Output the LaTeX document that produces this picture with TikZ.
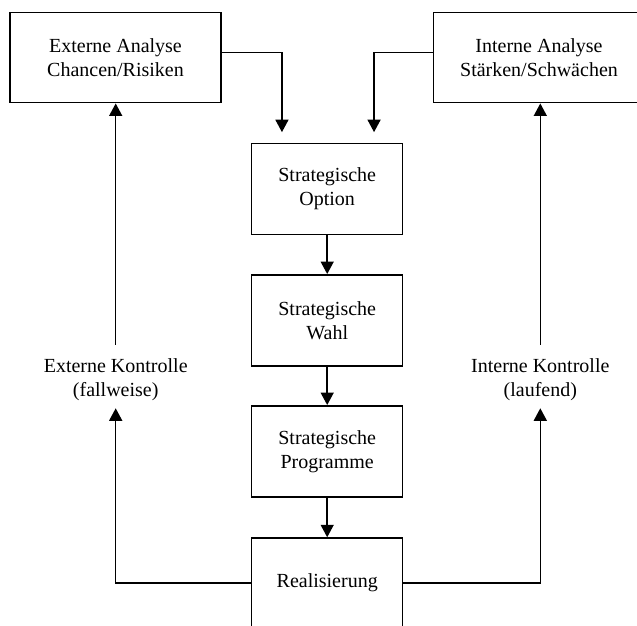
\documentclass[tikz,border=0pt]{standalone}
\usepackage{fontspec}
\setmainfont{Liberation Serif}
\usetikzlibrary{arrows.meta,calc}
\begin{document}
\begin{tikzpicture}[x=1pt,y=-1pt,
  txt/.style={align=center,font=\fontsize{20}{24}\selectfont},
  box/.style={txt,draw,line width=1.5pt,inner sep=0pt,minimum width=151pt,minimum height=91pt},
  widebox/.style={box,minimum width=211pt,minimum height=90pt},
  lbl/.style={txt,inner sep=0pt},
  arr/.style={-{Triangle[width=13pt,length=12.5pt]},line width=1.5pt}]
\useasboundingbox (0,0) rectangle (637,626);
\clip (0,0) rectangle (637,626);

% analysis boxes on top
\node[widebox] (ext) at (115.5,57.7) {Externe Analyse\\Chancen/Risiken};
\node[widebox] (int) at (539,57.7) {Interne Analyse\\Stärken/Schwächen};

% central chain
\node[box] (opt)  at (327.2,189)   {Strategische\\Option};
\node[box] (wahl) at (327.2,320.3) {Strategische\\Wahl};
\node[box] (prog) at (327.2,451.3) {Strategische\\Programme};
\node[box,minimum height=90pt] (real) at (327.2,583) {Realisierung};

% control labels
\node[lbl] (kext) at (115.7,379.5) {Externe Kontrolle\\(fallweise)};
\node[lbl] (kint) at (540.3,379.5) {Interne Kontrolle\\(laufend)};

% end points of the two inputs above the option box
\coordinate (inE) at ($(opt.north west)+(31,-10.6)$);
\coordinate (inI) at ($(opt.north east)+(-29.4,-10.6)$);

% connectors
\draw[arr] ([yshift=5pt]ext.east) -| (inE);
\draw[arr] ([yshift=5pt]int.west) -| (inI);
\draw[arr] (opt.south) -- (wahl.north);
\draw[arr] (wahl.south) -- (prog.north);
\draw[arr] (prog.south) -- (real.north);

\draw[arr] (real.west) -| ([yshift=-7.5pt]kext.south);
\draw[arr] (real.east) -| ([yshift=-7.5pt]kint.south);
\draw[arr] ([yshift=13.5pt]kext.north) -- (ext.south -| kext.north);
\draw[arr] ([yshift=13.5pt]kint.north) -- (int.south -| kint.north);
\end{tikzpicture}
\end{document}
